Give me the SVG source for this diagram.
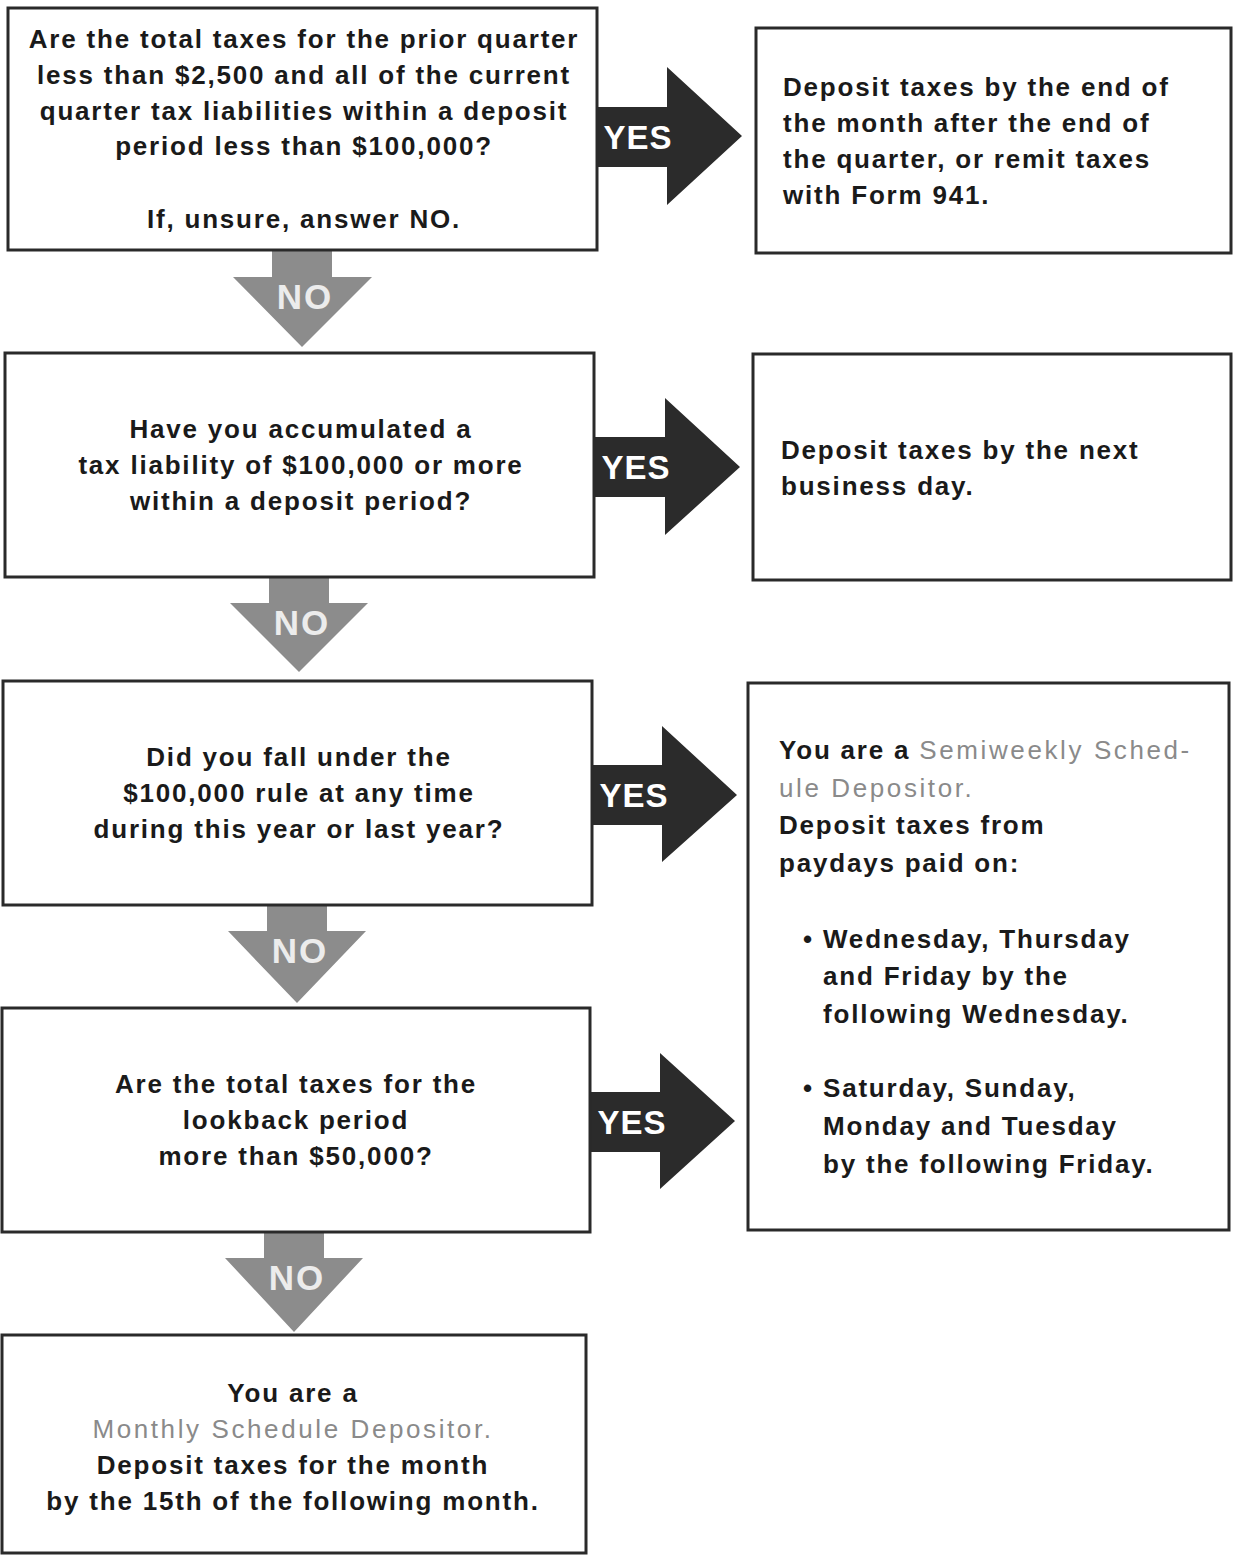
<svg xmlns="http://www.w3.org/2000/svg" width="1233" height="1556" viewBox="0 0 1233 1556">
<style>
.box{fill:#fff;stroke:#2a2a2a;stroke-width:3}
.t{font-family:"Liberation Sans",Arial,sans-serif;font-weight:bold;font-size:26px;letter-spacing:1.8px;fill:#1a1a1a}
.c{text-anchor:middle}
.g{font-weight:normal;fill:#8a8a8a;letter-spacing:2.6px}
.yes{fill:#2b2b2b}
.no{fill:#8c8c8c}
.lbl{font-family:"Liberation Sans",Arial,sans-serif;font-weight:bold;font-size:33px;letter-spacing:1px;fill:#fff;text-anchor:middle}
.nol{fill:#ececec;font-size:35px;letter-spacing:2px}
</style>
<g id="connectors">
<g id="yes1"><polygon class="yes" points="598,107 667,107 667,67 742,136 667,205 667,167 598,167"/><text class="lbl" x="638" y="149">YES</text></g>
<g id="yes2"><polygon class="yes" points="595,437 665,437 665,398 740,467 665,535 665,497 595,497"/><text class="lbl" x="636" y="479">YES</text></g>
<g id="yes3"><polygon class="yes" points="593,765 662,765 662,726 737,795 662,862 662,825 593,825"/><text class="lbl" x="634" y="807">YES</text></g>
<g id="yes4"><polygon class="yes" points="591,1092 660,1092 660,1053 735,1121 660,1189 660,1152 591,1152"/><text class="lbl" x="632" y="1134">YES</text></g>
<g id="no1"><polygon class="no" points="272,251 332,251 332,277 372,277 302,347 233,277 272,277"/><text class="lbl nol" x="305" y="309">NO</text></g>
<g id="no2"><polygon class="no" points="269,578 329,578 329,603 368,603 299,672 230,603 269,603"/><text class="lbl nol" x="302" y="635">NO</text></g>
<g id="no3"><polygon class="no" points="267,906 327,906 327,931 366,931 297,1003 228,931 267,931"/><text class="lbl nol" x="300" y="963">NO</text></g>
<g id="no4"><polygon class="no" points="264,1233 324,1233 324,1258 363,1258 294,1332 225,1258 264,1258"/><text class="lbl nol" x="297" y="1290">NO</text></g>
</g>
<g id="q1"><rect class="box" x="8" y="8" width="589" height="242"/>
<text class="t c"><tspan x="304" y="48">Are the total taxes for the prior quarter</tspan><tspan x="304" y="84">less than $2,500 and all of the current</tspan><tspan x="304" y="120">quarter tax liabilities within a deposit</tspan><tspan x="304" y="155">period less than $100,000?</tspan><tspan x="304" y="228">If, unsure, answer NO.</tspan></text></g>
<g id="r1"><rect class="box" x="756" y="28" width="475" height="225"/>
<text class="t"><tspan x="783" y="96">Deposit taxes by the end of</tspan><tspan x="783" y="132">the month after the end of</tspan><tspan x="783" y="168">the quarter, or remit taxes</tspan><tspan x="783" y="204">with Form 941.</tspan></text></g>
<g id="q2"><rect class="box" x="5" y="353" width="589" height="224"/>
<text class="t c"><tspan x="301" y="438">Have you accumulated a</tspan><tspan x="301" y="474">tax liability of $100,000 or more</tspan><tspan x="301" y="510">within a deposit period?</tspan></text></g>
<g id="r2"><rect class="box" x="753" y="354" width="478" height="226"/>
<text class="t"><tspan x="781" y="459">Deposit taxes by the next</tspan><tspan x="781" y="495">business day.</tspan></text></g>
<g id="q3"><rect class="box" x="3" y="681" width="589" height="224"/>
<text class="t c"><tspan x="299" y="766">Did you fall under the</tspan><tspan x="299" y="802">$100,000 rule at any time</tspan><tspan x="299" y="838">during this year or last year?</tspan></text></g>
<g id="r3"><rect class="box" x="748" y="683" width="481" height="547"/>
<text class="t"><tspan x="779" y="759">You are a </tspan><tspan class="g">Semiweekly Sched-</tspan><tspan class="g" x="779" y="797">ule Depositor.</tspan><tspan x="779" y="834">Deposit taxes from</tspan><tspan x="779" y="872">paydays paid on:</tspan></text>
<text class="t"><tspan x="803" y="948">•</tspan><tspan x="823" y="948">Wednesday, Thursday</tspan><tspan x="823" y="985">and Friday by the</tspan><tspan x="823" y="1023">following Wednesday.</tspan><tspan x="803" y="1097">•</tspan><tspan x="823" y="1097">Saturday, Sunday,</tspan><tspan x="823" y="1135">Monday and Tuesday</tspan><tspan x="823" y="1173">by the following Friday.</tspan></text></g>
<g id="q4"><rect class="box" x="2" y="1008" width="588" height="224"/>
<text class="t c"><tspan x="296" y="1093">Are the total taxes for the</tspan><tspan x="296" y="1129">lookback period</tspan><tspan x="296" y="1165">more than $50,000?</tspan></text></g>
<g id="end"><rect class="box" x="2" y="1335" width="584" height="218"/>
<text class="t c"><tspan x="293" y="1402">You are a</tspan><tspan class="g" x="293" y="1438">Monthly Schedule Depositor.</tspan><tspan x="293" y="1474">Deposit taxes for the month</tspan><tspan x="293" y="1510">by the 15th of the following month.</tspan></text></g>
</svg>
